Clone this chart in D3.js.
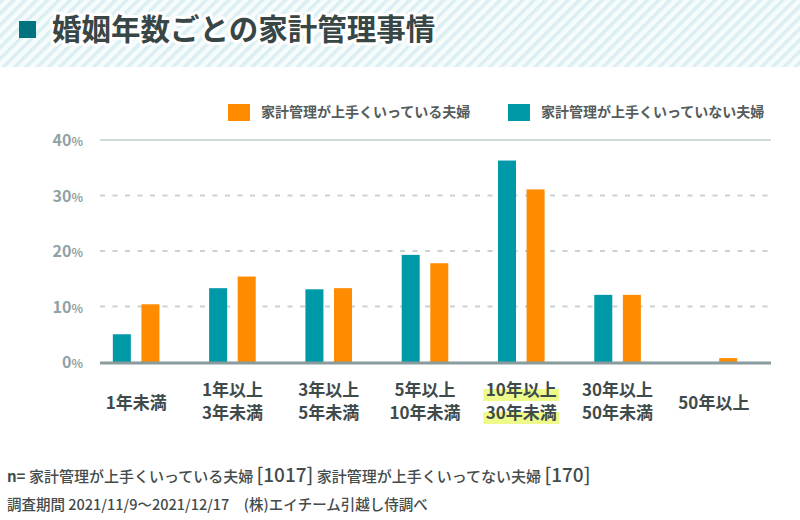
<!DOCTYPE html>
<html>
<head>
<meta charset="utf-8">
<script src="https://cdn.jsdelivr.net/npm/d3@7"></script>
<style>
  body { margin: 0; background: #fff; }
  text { font-family: "Noto Sans CJK JP", "Noto Sans", sans-serif; }
</style>
</head>
<body>
<div id="chart"></div>
<script>
var w = 800;
var h = 520;

// data (percent)
var categories = [["1年未満"], ["1年以上", "3年未満"], ["3年以上", "5年未満"], ["5年以上", "10年未満"],
                  ["10年以上", "30年未満"], ["30年以上", "50年未満"], ["50年以上"]];
var notGoodValues = [5.0, 13.3, 13.1, 19.3, 36.3, 12.1, 0];
var goodValues = [10.4, 15.4, 13.3, 17.8, 31.1, 12.1, 0.7];
var yTicks = [0, 10, 20, 30, 40];
var legendNames = ["家計管理が上手くいっている夫婦", "家計管理が上手くいっていない夫婦"];
var sampleSizes = [1017, 170];
var highlightIndex = 4;

var teal = "#0099a7";
var orange = "#ff8c00";

var svg = d3.select("#chart").append("svg")
  .attr("width", w)
  .attr("height", h);

// header with diagonal stripes
var defs = svg.append("defs");
var pat = defs.append("pattern")
  .attr("id", "stripes")
  .attr("width", 8)
  .attr("height", 8)
  .attr("patternUnits", "userSpaceOnUse")
  .attr("patternTransform", "rotate(45)");
pat.append("rect").attr("width", 8).attr("height", 8).attr("fill", "#f6fbfc");
pat.append("rect").attr("width", 3.5).attr("height", 8).attr("fill", "#dbeff2");

svg.append("rect")
  .attr("x", 0).attr("y", 0)
  .attr("width", w).attr("height", 67)
  .attr("fill", "url(#stripes)");

svg.append("rect")
  .attr("x", 19).attr("y", 21)
  .attr("width", 17).attr("height", 17)
  .attr("fill", "#00737e");

svg.append("text")
  .text("婚姻年数ごとの家計管理事情")
  .attr("x", 52)
  .attr("y", 40)
  .attr("font-size", 29.5)
  .attr("font-weight", 700)
  .attr("fill", "#384646")
  .attr("stroke", "#fff")
  .attr("stroke-width", 6)
  .attr("stroke-linejoin", "round")
  .attr("paint-order", "stroke");

// scales
var x0 = d3.scaleBand()
  .domain(d3.range(categories.length))
  .range([88, 762])
  .padding(0);

var pairW = 46.6;
var x1 = d3.scaleBand()
  .domain([0, 1])
  .range([(x0.bandwidth() - pairW) / 2, (x0.bandwidth() + pairW) / 2])
  .paddingInner(0.37)
  .paddingOuter(0);

var y = d3.scaleLinear()
  .domain([0, 40])
  .range([362, 140]);

var plotLeft = 100, plotRight = 771;

// grid
svg.append("g")
  .selectAll("line")
  .data(yTicks.filter(function(d){ return d > 0; }))
  .enter()
  .append("line")
  .attr("x1", plotLeft)
  .attr("x2", plotRight)
  .attr("y1", function(d){ return y(d); })
  .attr("y2", function(d){ return y(d); })
  .attr("stroke", function(d){ return d == 40 ? "#c3cdcf" : "#c9d1d1"; })
  .attr("stroke-width", function(d){ return d == 40 ? 1.5 : 2; })
  .attr("stroke-dasharray", function(d){ return d == 40 ? null : "5,7.5"; });

// y tick labels
var yLab = svg.append("g")
  .selectAll("text")
  .data(yTicks)
  .enter()
  .append("text")
  .attr("x", 83)
  .attr("y", function(d){ return y(d) + 6; })
  .attr("text-anchor", "end")
  .attr("font-weight", 700)
  .attr("fill", "#8fa2a4");
yLab.append("tspan").attr("font-size", 16).text(function(d){ return d; });
yLab.append("tspan").attr("font-size", 12).text("%");

// bars
var rows = categories.map(function(c, i){ return [notGoodValues[i], goodValues[i]]; });

var groups = svg.append("g")
  .selectAll("g")
  .data(rows)
  .enter()
  .append("g")
  .attr("transform", function(d, i){ return "translate(" + x0(i) + ",0)"; });

groups.selectAll("rect")
  .data(function(d){ return d; })
  .enter()
  .append("rect")
  .attr("x", function(d, j){ return x1(j); })
  .attr("y", function(d){ return y(d); })
  .attr("width", x1.bandwidth())
  .attr("height", function(d){ return y(0) - y(d); })
  .attr("fill", function(d, j){ return j == 0 ? teal : orange; });

// baseline
svg.append("line")
  .attr("x1", plotLeft)
  .attr("x2", plotRight)
  .attr("y1", y(0) + 1)
  .attr("y2", y(0) + 1)
  .attr("stroke", "#8a9b9d")
  .attr("stroke-width", 3);

// category labels
var catG = svg.append("g")
  .selectAll("g")
  .data(categories)
  .enter()
  .append("g")
  .attr("transform", function(d, i){ return "translate(" + (x0(i) + x0.bandwidth() / 2) + ",0)"; });

catG.each(function(lines, i){
  var g = d3.select(this);
  var top = lines.length == 1 ? 402.5 : 390;
  lines.forEach(function(t, k){
    var cy = top + k * 23;
    if (i == highlightIndex) {
      g.append("rect")
        .attr("x", -38)
        .attr("y", cy - 1)
        .attr("width", 76)
        .attr("height", 12)
        .attr("fill", "#eefa8a");
    }
    g.append("text")
      .text(t)
      .attr("x", 0)
      .attr("y", cy + 6)
      .attr("text-anchor", "middle")
      .attr("font-size", 17)
      .attr("font-weight", 700)
      .attr("fill", "#3f4b4b");
  });
});

// legend
var legendColors = [orange, teal];
var legendX = [228, 508];
var leg = svg.append("g")
  .selectAll("g")
  .data(legendNames)
  .enter()
  .append("g")
  .attr("transform", function(d, i){ return "translate(" + legendX[i] + ",0)"; });
leg.append("rect")
  .attr("x", 0).attr("y", 104)
  .attr("width", 22).attr("height", 17)
  .attr("fill", function(d, i){ return legendColors[i]; });
leg.append("text")
  .text(function(d){ return d; })
  .attr("x", 33)
  .attr("y", 117)
  .attr("font-size", 14)
  .attr("font-weight", 700)
  .attr("fill", "#555c5c");

// footer
var f1 = svg.append("text")
  .attr("x", 7)
  .attr("y", 482)
  .attr("font-weight", 500)
  .attr("fill", "#444b4b");
f1.append("tspan").attr("font-size", 15).attr("font-weight", 700).text("n= ");
f1.append("tspan").attr("font-size", 15).text(legendNames[0] + " ");
f1.append("tspan").attr("font-size", 19).text("[" + sampleSizes[0] + "]");
f1.append("tspan").attr("font-size", 15).text(" 家計管理が上手くいってない夫婦 ");
f1.append("tspan").attr("font-size", 19).text("[" + sampleSizes[1] + "]");

svg.append("text")
  .attr("x", 7)
  .attr("y", 510)
  .attr("font-size", 14.5)
  .attr("font-weight", 500)
  .attr("fill", "#444b4b")
  .text("調査期間 2021/11/9〜2021/12/17　(株)エイチーム引越し侍調べ");
</script>
</body>
</html>
